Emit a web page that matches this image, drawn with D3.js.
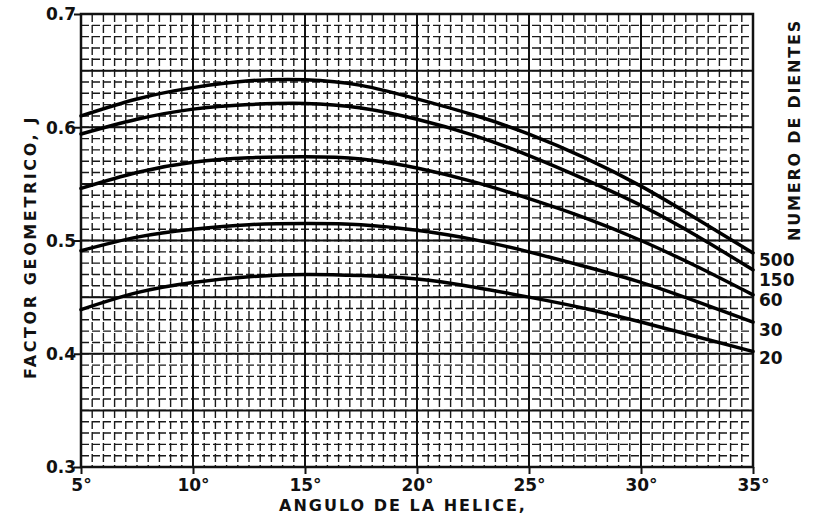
<!DOCTYPE html>
<html>
<head>
<meta charset="utf-8">
<script src="https://cdn.jsdelivr.net/npm/d3@7"></script>
<style>
  body { margin: 0; background: #fff; }
  text { font-family: "DejaVu Sans", sans-serif; font-weight: bold; fill: #111; }
</style>
</head>
<body>
<div class="container"></div>
<script>
// angles (degrees) where the curves were read
let angles = [5, 7.5, 10, 12.5, 15, 17.5, 20, 22.5, 25, 27.5, 30, 32.5, 35];

// J factor per number of teeth
let teeth = ["500", "150", "60", "30", "20"];
let j500 = [0.610, 0.625, 0.635, 0.641, 0.642, 0.637, 0.625, 0.611, 0.594, 0.573, 0.548, 0.519, 0.489];
let j150 = [0.594, 0.607, 0.616, 0.620, 0.621, 0.617, 0.607, 0.593, 0.575, 0.554, 0.531, 0.504, 0.474];
let j60 = [0.546, 0.560, 0.569, 0.573, 0.574, 0.572, 0.564, 0.552, 0.537, 0.520, 0.500, 0.477, 0.452];
let j30 = [0.491, 0.503, 0.510, 0.514, 0.515, 0.514, 0.509, 0.501, 0.490, 0.477, 0.463, 0.446, 0.428];
let j20 = [0.439, 0.454, 0.463, 0.468, 0.470, 0.469, 0.466, 0.459, 0.450, 0.440, 0.428, 0.415, 0.402];
let series = [j500, j150, j60, j30, j20];

// right side label rows (J value where label sits)
let labelJ = [0.483, 0.465, 0.447, 0.421, 0.396];

let xTicks = [5, 10, 15, 20, 25, 30, 35];
let yTicks = [0.3, 0.4, 0.5, 0.6, 0.7];

let margin = {
        top: 14,
        right: 61,
        bottom: 53,
        left: 81
    },
    width = 814 - margin.left - margin.right,
    height = 520 - margin.top - margin.bottom;

let svg = d3.select(".container")
    .append("svg")
    .attr("width", 814)
    .attr("height", 520)
    .append("g")
    .attr("transform", "translate(" + margin.left + "," + margin.top + ")");

let x = d3.scaleLinear().domain([5, 35]).range([0, width]);
let y = d3.scaleLinear().domain([0.3, 0.7]).range([height, 0]);

// graph paper: minor lines
let minorX = d3.range(5, 35.01, 0.5);
let minorY = d3.range(0.30, 0.7001, 0.01);

svg.append("g")
    .selectAll("line")
    .data(minorX)
    .enter()
    .append("line")
    .attr("x1", d => x(d))
    .attr("x2", d => x(d))
    .attr("y1", 0)
    .attr("y2", height)
    .attr("stroke", "#1a1a1a")
    .attr("stroke-width", 1.4)
    .attr("stroke-dasharray", "8,3");

svg.append("g")
    .selectAll("line")
    .data(minorY)
    .enter()
    .append("line")
    .attr("x1", 0)
    .attr("x2", width)
    .attr("y1", d => y(d))
    .attr("y2", d => y(d))
    .attr("stroke", "#1a1a1a")
    .attr("stroke-width", 1.4)
    .attr("stroke-dasharray", "8,3");

// heavy lines every 5 deg and every 0.05
svg.append("g")
    .selectAll("line")
    .data(d3.range(5, 35.01, 5))
    .enter()
    .append("line")
    .attr("x1", d => x(d))
    .attr("x2", d => x(d))
    .attr("y1", 0)
    .attr("y2", height)
    .attr("stroke", "#111")
    .attr("stroke-width", 2);

svg.append("g")
    .selectAll("line")
    .data(d3.range(0.30, 0.7001, 0.05))
    .enter()
    .append("line")
    .attr("x1", 0)
    .attr("x2", width)
    .attr("y1", d => y(d))
    .attr("y2", d => y(d))
    .attr("stroke", "#111")
    .attr("stroke-width", 2);

// frame
svg.append("rect")
    .attr("width", width)
    .attr("height", height)
    .attr("fill", "none")
    .attr("stroke", "#111")
    .attr("stroke-width", 2.5);

// axes
let xAxis = svg.append("g")
    .attr("class", "axis")
    .attr("transform", "translate(0," + height + ")")
    .call(d3.axisBottom(x).tickValues(xTicks).tickSize(7).tickFormat(d => d + "°"));

let yAxis = svg.append("g")
    .attr("class", "axis")
    .call(d3.axisLeft(y).tickValues(yTicks).tickSize(7).tickFormat(d3.format(".1f")));

svg.selectAll(".axis .domain").remove();
svg.selectAll(".axis line").attr("stroke", "#111").attr("stroke-width", 2);
svg.selectAll(".axis text")
    .style("font-size", "17px")
    .style("font-family", "DejaVu Sans, sans-serif")
    .style("font-weight", "bold")
    .attr("fill", "#111");
xAxis.selectAll("text").attr("dy", "0.85em");
yAxis.selectAll("text").attr("x", -5).attr("dy", "0.35em");

// curves
let line = d3.line()
    .x((d, i) => x(angles[i]))
    .y(d => y(d))
    .curve(d3.curveNatural);

svg.append("g")
    .selectAll("path")
    .data(series)
    .enter()
    .append("path")
    .attr("d", d => line(d))
    .attr("fill", "none")
    .attr("stroke", "#000")
    .attr("stroke-width", 3.5)
    .attr("stroke-linecap", "round");

// tooth count labels
svg.append("g")
    .selectAll("text")
    .data(teeth)
    .enter()
    .append("text")
    .attr("x", width + 6)
    .attr("y", (d, i) => y(labelJ[i]))
    .attr("dy", "0.35em")
    .style("font-size", "17px")
    .text(d => d);

// titles
svg.append("text")
    .attr("transform", "translate(" + (width + 47) + "," + 116 + ") rotate(-90)")
    .attr("text-anchor", "middle")
    .style("font-size", "16px")
    .style("letter-spacing", "1.8px")
    .text("NUMERO DE DIENTES");

svg.append("text")
    .attr("transform", "translate(-45," + 233 + ") rotate(-90)")
    .attr("text-anchor", "middle")
    .style("font-size", "16px")
    .style("letter-spacing", "2.6px")
    .text("FACTOR GEOMETRICO, J");

svg.append("text")
    .attr("x", 322)
    .attr("y", height + 44)
    .attr("text-anchor", "middle")
    .style("font-size", "16px")
    .style("letter-spacing", "2px")
    .text("ANGULO DE LA HELICE,");
</script>
</body>
</html>
